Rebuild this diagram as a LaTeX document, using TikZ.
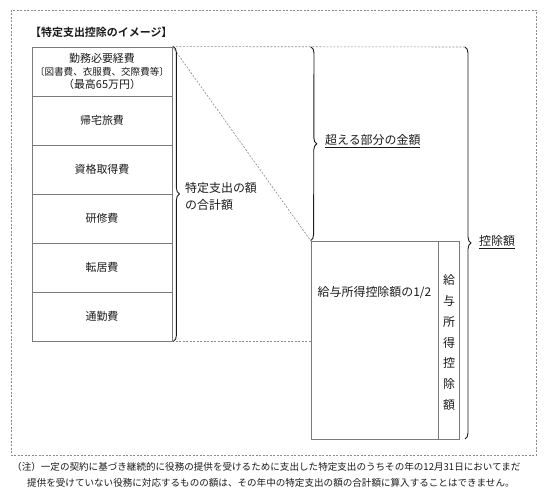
\documentclass[tikz,border=0pt]{standalone}
\usepackage{fontspec}
\setmainfont{Noto Sans CJK JP}[BoldFont={Noto Sans CJK JP Bold}]
\usetikzlibrary{decorations.pathreplacing}
\definecolor{ink}{HTML}{1A1A1A}
\definecolor{rule}{HTML}{7A7A7A}
\definecolor{dashc}{HTML}{8A8A8A}
\tikzset{
  dashline/.style={draw=dashc, dash pattern=on 2bp off 1.5bp, line width=0.6bp},
  cell/.style={draw=rule, line width=0.8bp, minimum width=140bp, minimum height=49bp,
    inner sep=0pt, text=ink, font=\fontsize{11}{14}\selectfont, align=center},
  bigcell/.style={draw=rule, line width=0.8bp, minimum height=198bp, inner sep=0pt, text=ink},
  bracestyle/.style={draw=ink, line width=0.9bp, decorate, decoration={brace, amplitude=6bp}},
  lbl/.style={text=ink, inner sep=0pt, anchor=west, font=\fontsize{12}{17}\selectfont, align=left},
  note/.style={text=ink, inner sep=0pt, anchor=west, font=\fontsize{9.6}{12}\selectfont}
}
\begin{document}
\begin{tikzpicture}[x=1bp,y=-1bp]
\useasboundingbox (0,0) rectangle (550,497);
\draw[dashline] (11,10) rectangle (536,455);
\node[text=ink, inner sep=0pt, anchor=west, font=\bfseries\fontsize{11}{14}\selectfont] (title) at (30,32) {【特定支出控除のイメージ】};
% left column
\node[cell] (r1) at (102,71.5) {勤務必要経費\\[-1bp]{\fontsize{9.6}{14}\selectfont 〔図書費、衣服費、交際費等〕}\\[-1bp]（最高65万円）};
\node[cell] (r2) at (102,120.5) {帰宅旅費};
\node[cell] (r3) at (102,169.5) {資格取得費};
\node[cell] (r4) at (102,218.5) {研修費};
\node[cell] (r5) at (102,267.5) {転居費};
\node[cell] (r6) at (102,316.5) {通勤費};
% bottom right box
\node[bigcell, minimum width=127bp] (bl) at (374.5,340) {};
\node[bigcell, minimum width=21bp] (br) at (448.5,340) {};
\node[text=ink, inner sep=0pt, font=\fontsize{12}{15}\selectfont] (half) at (374.5,293) {給与所得控除額の1/2};
\node[text=ink, inner sep=0pt, align=center, font=\fontsize{12}{20.8}\selectfont] (vt) at (449,342.5) {給\\与\\所\\得\\控\\除\\額};
% coordinates
\coordinate (c2top) at (311,47);
\coordinate (c3top) at (465,47);
\coordinate (c3bot) at (465,439);
\coordinate (bend) at (bl.west |- r6.south east);
% dashed guides
\draw[dashline] (r1.north east) -- (c3top);
\draw[dashline] (r1.north east) -- (bl.north west);
\draw[dashline] (r6.south east) -- (bend);
% braces
\draw[bracestyle] ([xshift=1bp]r1.north east) -- ([xshift=1bp]r6.south east);
\draw[bracestyle] (c2top) -- (bl.north west);
\draw[bracestyle] (c3top) -- (c3bot);
% labels
\node[lbl] (l1) at (185,196) {特定支出の額\\の合計額};
\node[lbl] (l2) at (325,141) {\underline{超える部分の金額}};
\node[lbl] (l3) at (479,242) {\underline{控除額}};
% notes
\node[note] (n1) at (12,467) {（注）一定の契約に基づき継続的に役務の提供を受けるために支出した特定支出のうちその年の12月31日においてまだ};
\node[note] (n2) at (27,483) {提供を受けていない役務に対応するものの額は、その年中の特定支出の額の合計額に算入することはできません。};
\end{tikzpicture}
\end{document}
